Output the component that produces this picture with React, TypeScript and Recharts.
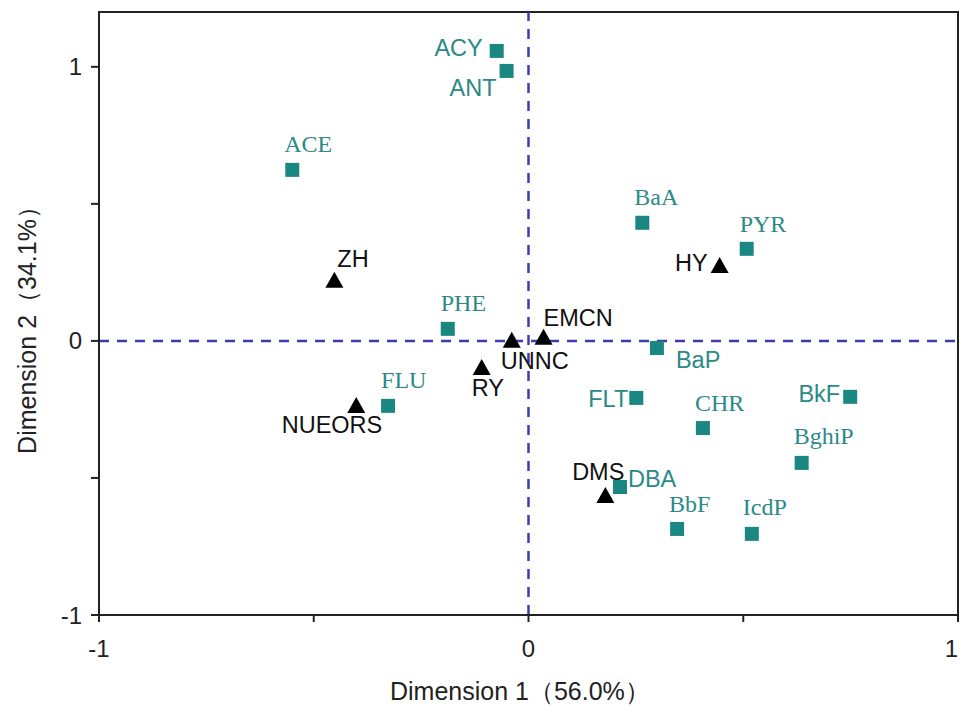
import { ScatterChart, Scatter, XAxis, YAxis, ReferenceLine, ReferenceArea } from "recharts";

// PAHs (squares)
const pahNames = ["ACY", "ANT", "ACE", "BaA", "PYR", "PHE", "BaP", "FLU", "FLT", "BkF", "CHR", "BghiP", "DBA", "BbF", "IcdP"];
const pahX = [-0.074, -0.051, -0.55, 0.265, 0.508, -0.188, 0.299, -0.327, 0.251, 0.749, 0.406, 0.636, 0.213, 0.346, 0.52];
const pahY = [1.058, 0.985, 0.624, 0.431, 0.336, 0.044, -0.026, -0.237, -0.208, -0.204, -0.318, -0.445, -0.533, -0.686, -0.704];

// sources (triangles)
const srcNames = ["ZH", "HY", "EMCN", "UNNC", "RY", "NUEORS", "DMS"];
const srcX = [-0.452, 0.445, 0.035, -0.039, -0.109, -0.401, 0.179];
const srcY = [0.223, 0.277, 0.015, 0.004, -0.095, -0.234, -0.562];

const xTicks = [-1, -0.5, 0, 0.5, 1];
const yTicks = [-1, -0.5, 0, 0.5, 1];

const pahData = pahNames.map((n, i) => ({ name: n, x: pahX[i], y: pahY[i] }));
const srcData = srcNames.map((n, i) => ({ name: n, x: srcX[i], y: srcY[i] }));

// label placement: dx, dy (text centre), anchor
const LABEL_POS: Record<string, [number, number, "start" | "middle" | "end"]> = {
  ACY: [-14, -3, "end"],
  ANT: [-10, 17, "end"],
  ACE: [-8, -26, "start"],
  BaA: [-8, -26, "start"],
  PYR: [-7, -25, "start"],
  PHE: [-7, -26, "start"],
  BaP: [19, 12, "start"],
  FLU: [-7, -26, "start"],
  FLT: [-8, 1, "end"],
  BkF: [-10, -3, "end"],
  CHR: [-8, -25, "start"],
  BghiP: [-8, -27, "start"],
  DBA: [8, -8, "start"],
  BbF: [-8, -25, "start"],
  IcdP: [-9, -27, "start"],
  ZH: [3, -21, "start"],
  HY: [-12, -2, "end"],
  EMCN: [0, -19, "start"],
  UNNC: [-11, 21, "start"],
  RY: [-10, 21, "start"],
  NUEORS: [26, 20, "end"],
  DMS: [19, -23, "end"],
};
const SERIF = ["ACE", "BaA", "PYR", "PHE", "FLU", "CHR", "BghiP", "BbF", "IcdP"];

const SANS = "'Liberation Sans', Arial, sans-serif";
const SERIF_FONT = "'Liberation Serif', 'Times New Roman', serif";
const TEAL = "#1b8782";
const TEAL_TEXT = "#2a8a86";
const AXIS = "#222";
const DASH = "#3d3dac";

function PointLabel({ cx, cy, name, color }: any) {
  const [dx, dy, anchor] = LABEL_POS[name] || [0, -20, "middle"];
  const serif = SERIF.includes(name);
  return (
    <text
      x={cx + dx}
      y={cy + dy}
      textAnchor={anchor}
      dominantBaseline="central"
      fontSize={serif ? 24 : 23.5}
      fontFamily={serif ? SERIF_FONT : SANS}
      fill={color}
    >
      {name}
    </text>
  );
}

function SquareShape(props: any) {
  const { cx, cy, payload } = props;
  return (
    <g>
      <rect x={cx - 7} y={cy - 7} width={14} height={14} fill={TEAL} />
      <PointLabel cx={cx} cy={cy} name={payload.name} color={TEAL_TEXT} />
    </g>
  );
}

function TriangleShape(props: any) {
  const { cx, cy, payload } = props;
  const w = 18, h = 16;
  return (
    <g>
      <polygon points={`${cx},${cy - h / 2} ${cx + w / 2},${cy + h / 2} ${cx - w / 2},${cy + h / 2}`} fill="#000" />
      <PointLabel cx={cx} cy={cy} name={payload.name} color="#111" />
    </g>
  );
}

function XTick({ x, y, payload }: any) {
  if (!Number.isInteger(payload.value)) return null;
  const last = payload.value === 1;
  return (
    <text
      x={last ? x + 2 : x}
      y={y + 26}
      textAnchor={last ? "end" : "middle"}
      dominantBaseline="central"
      fontSize={24}
      fontFamily={SANS}
      fill="#222"
    >
      {payload.value}
    </text>
  );
}

function YTick({ x, y, payload }: any) {
  if (!Number.isInteger(payload.value)) return null;
  return (
    <text x={x - 9} y={y} textAnchor="end" dominantBaseline="central" fontSize={24} fontFamily={SANS} fill="#222">
      {payload.value}
    </text>
  );
}

const XTitle = () => (
  <text x={382} y={692} fontSize={25} fontFamily={SANS} fill="#222">
    Dimension 1（56.0%）
  </text>
);

const YTitle = () => (
  <text x={28} y={316} transform="rotate(-90 28 316)" textAnchor="middle" fontSize={25} fontFamily={SANS} fill="#222">
    Dimension 2（34.1%）
  </text>
);

export default function App() {
  return (
    <div style={{ width: 952, height: 697 }}>
      <style>{"html, body { overflow: hidden; }"}</style>
      <ScatterChart width={952} height={697} margin={{ top: 4, right: 2, bottom: 0, left: 0 }}>
        <XAxis
          type="number"
          dataKey="x"
          domain={[-1, 1]}
          ticks={xTicks}
          height={90}
          tickSize={7}
          tickMargin={0}
          axisLine={{ stroke: AXIS, strokeWidth: 2 }}
          tickLine={{ stroke: AXIS, strokeWidth: 2 }}
          tick={<XTick />}
          label={<XTitle />}
        />
        <YAxis
          type="number"
          dataKey="y"
          domain={[-1, 1.2]}
          ticks={yTicks}
          width={91}
          tickSize={8}
          tickMargin={0}
          axisLine={{ stroke: AXIS, strokeWidth: 2 }}
          tickLine={{ stroke: AXIS, strokeWidth: 2 }}
          tick={<YTick />}
          label={<YTitle />}
        />
        <ReferenceArea x1={-1} x2={1} y1={-1} y2={1.2} fill="none" stroke={AXIS} strokeWidth={2} />
        <ReferenceLine x={0} stroke={DASH} strokeWidth={2.5} strokeDasharray="10 8" />
        <ReferenceLine y={0} stroke={DASH} strokeWidth={2.5} strokeDasharray="10 8" />
        <Scatter data={pahData} shape={SquareShape} isAnimationActive={false} />
        <Scatter data={srcData} shape={TriangleShape} isAnimationActive={false} />
      </ScatterChart>
    </div>
  );
}
